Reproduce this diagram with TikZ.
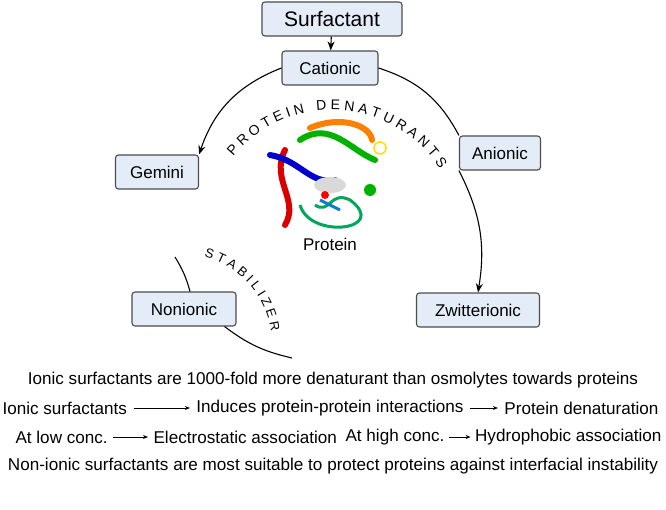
\documentclass[tikz,border=0pt]{standalone}
\usepackage{fontspec}
\setmainfont{Liberation Sans}
\usetikzlibrary{arrows.meta,decorations.text}
\definecolor{boxfill}{HTML}{E4EDF7}
\begin{document}
\begin{tikzpicture}[x=1pt, y=1pt, line width=1.1pt, >={Stealth[length=9pt,width=7pt]}]
			\tikzstyle{kind} = [draw=black!70, fill=boxfill, rounded corners=3pt, inner xsep=6pt, minimum height=34pt, font=\fontsize{17}{19}\selectfont]
			\tikzstyle{note} = [font=\fontsize{17.1}{20}\selectfont, inner sep=0pt]
			\tikzstyle{ribbon} = [line width=6pt, line cap=round]
			\useasboundingbox (0, 0) rectangle (666, -510);
			\path (332, -19) node[kind, minimum width=140pt, font=\fontsize{21}{23}\selectfont] (surf) {Surfactant};
			\path (330, -68) node[kind, minimum width=96pt] (cat) {Cationic};
			\path (157, -172) node[kind, minimum width=83pt] (gem) {Gemini};
			\path (500, -153) node[kind, minimum width=81pt] (ani) {Anionic};
			\path (184, -309) node[kind, minimum width=104pt] (non) {Nonionic};
			\path (478, -310) node[kind, minimum width=123pt] (zwi) {Zwitterionic};
			\path (330, -244) node[font=\fontsize{17}{19}\selectfont] (prot) {Protein};
			\coordinate (stabtop) at (175, -257);
			\coordinate (stabend) at (292, -358);

			% protein cartoon
			\draw[ribbon, red!85!black] (285, -150) .. controls (270, -180) and (300, -200) .. (285, -225);
			\draw[ribbon, blue!80!black] (270, -155) .. controls (300, -160) and (310, -185) .. (335, -180);
			\draw[ribbon, green!70!black] (300, -140) .. controls (330, -120) and (350, -150) .. (375, -160);
			\draw[ribbon, orange] (310, -128) .. controls (340, -115) and (370, -125) .. (372, -140);
			\draw[line width=1.5pt, yellow!80!orange] (380, -148) circle (6pt);
			\draw[line width=3pt, teal!70!green] (300, -205) .. controls (310, -240) and (390, -230) .. (350, -200) .. controls (330, -190) and (330, -215) .. (315, -205);
			\draw[line width=3pt, cyan!60!blue] (320, -200) -- (340, -210);
			\fill[gray!30] (330, -185) ellipse (16pt and 8pt);
			\fill[red] (325, -195) circle (4pt);
			\fill[green!70!black] (370, -190) circle (6pt);

			\draw[->] (surf) -- (cat);
			\draw (cat.east) to[bend left=22] (ani.north west);
			\draw[->] (ani.south west) to[bend left=18] (zwi.north);
			\draw[->] (cat.west) to[bend right=25] (gem.north east);
			\draw (stabtop) to[bend left=8] ([xshift=6pt]non.north);
			\draw ([xshift=-12pt]non.south east) to[bend right=12] (stabend);

			\path[decorate, decoration={text along path, text align=center, text={|\fontsize{14}{16}\selectfont|P R O T E I N {} {} D E N A T U R A N T S}}] (332, -238) ++(158:128) arc[start angle=158, end angle=15, radius=128];
			\path[decorate, decoration={text along path, text align=center, text={|\fontsize{13}{15}\selectfont|S T A B I L I Z E R}}] (180, -345) ++(95:92) arc[start angle=95, end angle=-12, radius=92];

			\path (333, -380) node[note] (l1) {Ionic surfactants are 1000-fold more denaturant than osmolytes towards proteins};
			\path (2, -408) node[note, anchor=west] (is) {Ionic surfactants};
			\path (330, -408) node[note] (ind) {Induces protein-protein interactions};
			\path (659, -408) node[note, anchor=east] (den) {Protein denaturation};
			\path (15, -437) node[note, anchor=west] (low) {At low conc.};
			\path (153, -437) node[note, anchor=west] (ele) {Electrostatic association};
			\path (345, -437) node[note, anchor=west] (high) {At high conc.};
			\path (662, -437) node[note, anchor=east] (hyd) {Hydrophobic association};
			\path (333, -466) node[note] (l4) {Non-ionic surfactants are most suitable to protect proteins against interfacial instability};

			\draw[line width=1pt, -{Stealth[length=5pt,width=4pt]}] ([xshift=6pt]is.east) -- ([xshift=-6pt]ind.west);
			\draw[line width=1pt, -{Stealth[length=5pt,width=4pt]}] ([xshift=6pt]ind.east) -- ([xshift=-6pt]den.west);
			\draw[line width=1pt, -{Stealth[length=5pt,width=4pt]}] ([xshift=5pt]low.east) -- ([xshift=-5pt]ele.west);
			\draw[line width=1pt, -{Stealth[length=5pt,width=4pt]}] ([xshift=4pt]high.east) -- ([xshift=-4pt]hyd.west);
		\end{tikzpicture}
\end{document}
